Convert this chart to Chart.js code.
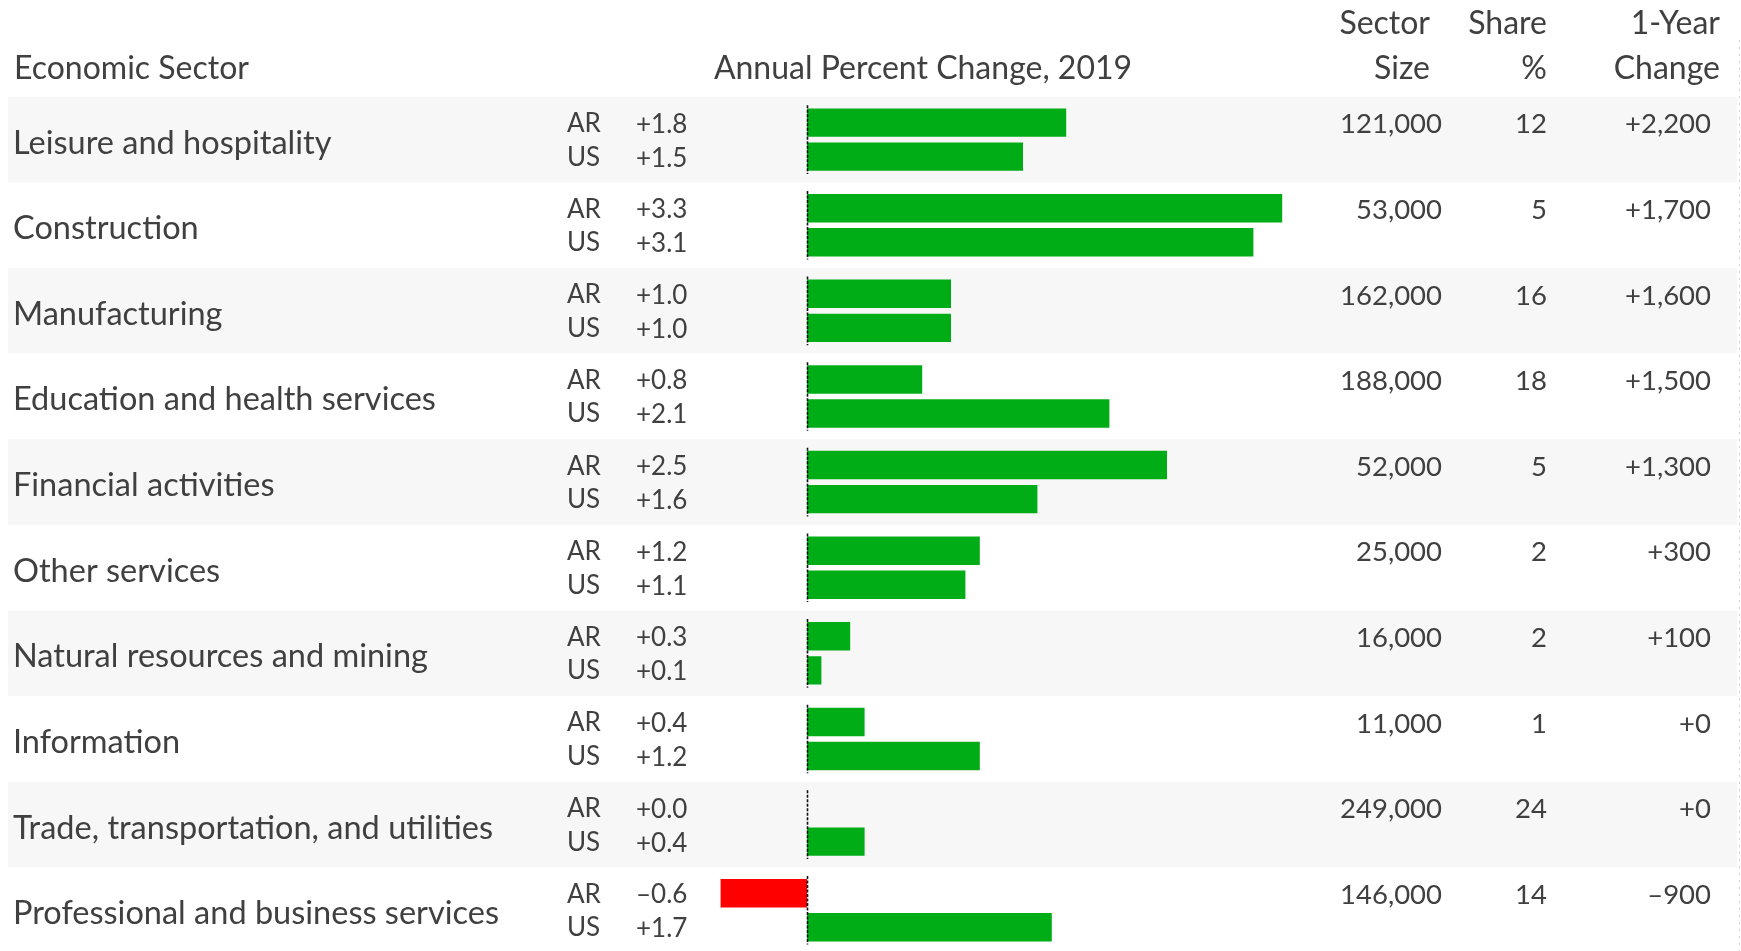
<!DOCTYPE html>
<html>
<head>
<meta charset="utf-8">
<script src="https://cdn.jsdelivr.net/npm/chart.js@4/dist/chart.umd.min.js"></script>
<style>
  html, body { margin: 0; padding: 0; background: #ffffff; overflow: hidden; }
  #wrap { position: relative; width: 1741px; height: 951px; overflow: hidden; }
  canvas { display: block; }
</style>
</head>
<body>
<div id="wrap"><canvas id="c" width="1741" height="953"></canvas></div>
<script>
// ---- data ----
const sectors = [
  'Leisure and hospitality',
  'Construction',
  'Manufacturing',
  'Education and health services',
  'Financial activities',
  'Other services',
  'Natural resources and mining',
  'Information',
  'Trade, transportation, and utilities',
  'Professional and business services'
];
const seriesNames = ['AR', 'US'];
const arChange = [1.8, 3.3, 1.0, 0.8, 2.5, 1.2, 0.3, 0.4, 0.0, -0.6];
const usChange = [1.5, 3.1, 1.0, 2.1, 1.6, 1.1, 0.1, 1.2, 0.4, 1.7];
const sectorSize = [121000, 53000, 162000, 188000, 52000, 25000, 16000, 11000, 249000, 146000];
const sharePct = [12, 5, 16, 18, 5, 2, 2, 1, 24, 14];
const yearChange = [2200, 1700, 1600, 1500, 1300, 300, 100, 0, 0, -900];
const headers = {
  sector: 'Economic Sector',
  change: 'Annual Percent Change, 2019',
  size: ['Sector', 'Size'],
  share: ['Share', '%'],
  year: ['1-Year', 'Change']
};

// ---- styling ----
const GREEN = '#00ad17';
const RED = '#ff0000';
const TEXT = '#404040';
const BAND = '#f7f7f7';
const FONT = 'Lato, "Open Sans", sans-serif';

function fmtChange(v) {
  const s = Math.abs(v).toFixed(1);
  return (v < 0 ? '\u2013' : '+') + s;
}
function fmtThousands(v) {
  return Math.abs(v).toLocaleString('en-US');
}
function fmtYear(v) {
  return (v < 0 ? '\u2013' : '+') + fmtThousands(v);
}

const tablePlugin = {
  id: 'tablePlugin',
  beforeDatasetsDraw(chart) {
    const ctx = chart.ctx;
    const y = chart.scales.y;
    const rowH = Math.abs(y.getPixelForValue(1) - y.getPixelForValue(0));
    ctx.save();
    ctx.fillStyle = BAND;
    sectors.forEach((s, i) => {
      if (i % 2 === 0) {
        const c = y.getPixelForValue(i);
        ctx.fillRect(8, c - rowH / 2, 1729, rowH);
      }
    });
    // faint dotted edge line at right
    ctx.strokeStyle = '#cfcfcf';
    ctx.lineWidth = 1;
    ctx.setLineDash([2, 5]);
    ctx.beginPath();
    ctx.moveTo(1739.5, 40);
    ctx.lineTo(1739.5, 951);
    ctx.stroke();
    ctx.restore();
  },
  afterDatasetsDraw(chart) {
    const ctx = chart.ctx;
    const y = chart.scales.y;
    const x = chart.scales.x;
    const rowH = Math.abs(y.getPixelForValue(1) - y.getPixelForValue(0));
    const x0 = Math.round(x.getPixelForValue(0)) + 0.5;
    ctx.save();
    // zero reference line, one segment per row
    ctx.strokeStyle = '#111111';
    ctx.lineWidth = 1.6;
    ctx.setLineDash([3, 1.5]);
    sectors.forEach((s, i) => {
      const c = y.getPixelForValue(i);
      ctx.beginPath();
      ctx.moveTo(x0, c - rowH / 2 + 8.5);
      ctx.lineTo(x0, c + rowH / 2 - 8.5);
      ctx.stroke();
    });
    ctx.setLineDash([]);

    // headers
    ctx.fillStyle = TEXT;
    ctx.textBaseline = 'alphabetic';
    ctx.font = '32px ' + FONT;
    ctx.textAlign = 'left';
    ctx.fillText(headers.sector, 14, 79);
    ctx.textAlign = 'center';
    ctx.fillText(headers.change, 923, 79);
    ctx.textAlign = 'right';
    ctx.fillText(headers.size[0], 1430, 34);
    ctx.fillText(headers.size[1], 1430, 79);
    ctx.fillText(headers.share[0], 1547, 34);
    ctx.fillText(headers.share[1], 1547, 79);
    ctx.fillText(headers.year[0], 1720, 34);
    ctx.fillText(headers.year[1], 1720, 79);

    const metaAR = chart.getDatasetMeta(0);
    const metaUS = chart.getDatasetMeta(1);
    sectors.forEach((s, i) => {
      const c = y.getPixelForValue(i);
      const yAR = metaAR.data[i].y;
      const yUS = metaUS.data[i].y;
      // sector name
      ctx.font = '32.5px ' + FONT;
      ctx.textAlign = 'left';
      ctx.fillText(s, 13, c + 14);
      // series labels and values
      ctx.font = '26px ' + FONT;
      ctx.fillText(seriesNames[0], 567, yAR + 9.5);
      ctx.fillText(seriesNames[1], 567, yUS + 9);
      ctx.fillText(fmtChange(arChange[i]), 636, yAR + 10);
      ctx.fillText(fmtChange(usChange[i]), 636, yUS + 10);
      // right columns
      ctx.font = '27.5px ' + FONT;
      ctx.textAlign = 'right';
      ctx.fillText(fmtThousands(sectorSize[i]), 1442, yAR + 10.8);
      ctx.fillText(String(sharePct[i]), 1547, yAR + 10.8);
      ctx.fillText(fmtYear(yearChange[i]), 1711, yAR + 10.8);
    });
    ctx.restore();
  }
};

new Chart(document.getElementById('c'), {
  type: 'bar',
  data: {
    labels: sectors,
    datasets: [
      {
        label: seriesNames[0],
        data: arChange,
        backgroundColor: (ctx) => (ctx.raw < 0 ? RED : GREEN),
        borderWidth: 0,
        categoryPercentage: 0.795,
        barPercentage: 0.835
      },
      {
        label: seriesNames[1],
        data: usChange,
        backgroundColor: (ctx) => (ctx.raw < 0 ? RED : GREEN),
        borderWidth: 0,
        categoryPercentage: 0.795,
        barPercentage: 0.835
      }
    ]
  },
  options: {
    indexAxis: 'y',
    responsive: false,
    animation: false,
    events: [],
    layout: { padding: { left: 663, right: 430, top: 96.8, bottom: 0 } },
    scales: {
      x: { type: 'linear', min: -1, max: 3.5, display: false },
      y: { display: false }
    },
    plugins: {
      legend: { display: false },
      tooltip: { enabled: false },
      title: { display: false }
    }
  },
  plugins: [tablePlugin]
});
</script>
</body>
</html>
